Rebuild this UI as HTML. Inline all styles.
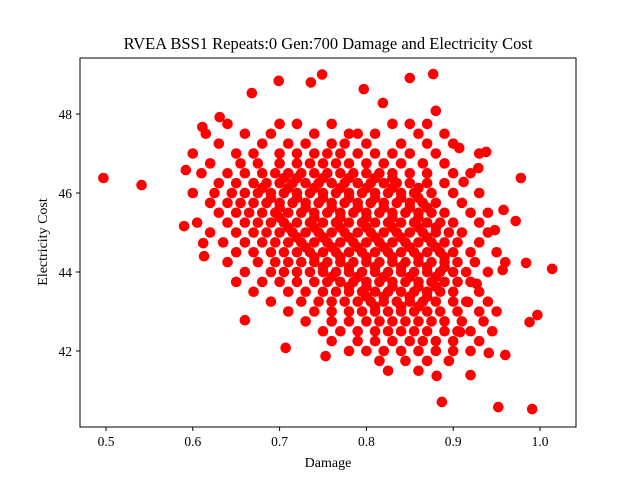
<!DOCTYPE html>
<html><head><meta charset="utf-8"><style>
body{margin:0;background:#fff}
svg{display:block;font-family:"Liberation Serif",serif}
</style></head><body>
<svg id="chart" width="640" height="480" viewBox="0 0 640 480" xmlns="http://www.w3.org/2000/svg">
<rect width="640" height="480" fill="#fff"/>
<text x="328" y="49" text-anchor="middle" font-size="16.5">RVEA BSS1 Repeats:0 Gen:700 Damage and Electricity Cost</text>
<g id="points"></g>
<rect x="80" y="58" width="496" height="369" fill="none" stroke="#000" stroke-width="1"/>
<g id="xt"></g>
<g id="yt"></g>
<text x="328" y="467" text-anchor="middle" font-size="14">Damage</text>
<text transform="translate(47,242) rotate(-90)" text-anchor="middle" font-size="14">Electricity Cost</text>
</svg>
<script>
const outX=[0.497,0.541,0.592,0.590,0.612,0.613,0.611,0.631,0.668,0.699,0.749,0.736,0.797,0.819,0.850,0.877,0.660,0.707,0.753,0.881,0.887,0.920,0.952,0.991,0.988,0.997,1.014,0.984,0.978,0.972,0.958,0.938,0.929,0.907,0.880,0.912,0.948,0.957,0.960,0.941,0.908,0.917,0.927];
const outY=[46.38,46.2,46.58,45.16,44.73,44.4,47.67,47.92,48.53,48.84,49.0,48.8,48.63,48.28,48.91,49.01,42.78,42.08,41.87,41.37,40.71,41.39,40.58,40.53,42.73,42.91,44.08,44.23,46.38,45.29,45.57,47.04,46.63,47.14,48.08,46.28,45.06,44.05,41.9,41.95,42.48,43.24,43.7];
const rowY=[47.75,47.5,47.25,47.0,46.75,46.5,46.25,46.0,45.75,45.5,45.25,45.0,44.75,44.5,44.25,44.0,43.75,43.5,43.25,43.0,42.75,42.5,42.25,42.0,41.75,41.5];
const rowX=[
[0.64,0.70,0.72,0.76,0.83,0.85,0.87],
[0.615,0.66,0.69,0.74,0.78,0.79,0.81,0.86,0.89],
[0.63,0.68,0.71,0.73,0.76,0.775,0.80,0.84,0.87,0.90],
[0.60,0.65,0.67,0.70,0.72,0.74,0.755,0.77,0.79,0.81,0.83,0.85,0.88,0.93],
[0.62,0.655,0.675,0.70,0.72,0.735,0.75,0.765,0.78,0.80,0.82,0.84,0.865,0.89],
[0.61,0.64,0.66,0.68,0.695,0.71,0.725,0.74,0.755,0.77,0.785,0.80,0.815,0.83,0.85,0.87,0.90,0.92],
[0.63,0.65,0.67,0.685,0.70,0.715,0.73,0.745,0.76,0.775,0.79,0.805,0.82,0.835,0.85,0.87,0.89],
[0.60,0.625,0.645,0.66,0.675,0.69,0.705,0.72,0.735,0.75,0.765,0.78,0.795,0.81,0.825,0.84,0.855,0.875,0.90,0.93],
[0.62,0.64,0.655,0.67,0.685,0.70,0.715,0.73,0.745,0.76,0.775,0.79,0.805,0.82,0.835,0.85,0.865,0.88,0.91],
[0.63,0.65,0.665,0.68,0.695,0.71,0.725,0.74,0.755,0.77,0.785,0.80,0.815,0.83,0.845,0.86,0.875,0.89,0.92,0.94],
[0.605,0.64,0.66,0.675,0.69,0.705,0.72,0.735,0.75,0.765,0.78,0.795,0.81,0.825,0.84,0.855,0.87,0.885,0.90,0.93],
[0.62,0.65,0.67,0.685,0.70,0.715,0.73,0.745,0.76,0.775,0.79,0.805,0.82,0.835,0.85,0.865,0.88,0.895,0.91,0.94],
[0.635,0.66,0.68,0.695,0.71,0.725,0.74,0.755,0.77,0.785,0.80,0.815,0.83,0.845,0.86,0.875,0.89,0.905,0.93],
[0.65,0.67,0.69,0.705,0.72,0.735,0.75,0.765,0.78,0.795,0.81,0.825,0.84,0.855,0.87,0.885,0.90,0.92,0.95],
[0.64,0.675,0.695,0.71,0.725,0.74,0.755,0.77,0.785,0.80,0.815,0.83,0.845,0.86,0.875,0.89,0.905,0.925,0.96],
[0.66,0.69,0.705,0.72,0.735,0.75,0.765,0.78,0.795,0.81,0.825,0.84,0.855,0.87,0.885,0.90,0.915,0.94],
[0.65,0.68,0.70,0.72,0.74,0.755,0.77,0.785,0.80,0.815,0.83,0.845,0.86,0.875,0.89,0.905,0.92],
[0.67,0.71,0.73,0.75,0.765,0.78,0.795,0.81,0.825,0.84,0.855,0.87,0.885,0.90,0.93],
[0.69,0.725,0.745,0.76,0.775,0.79,0.805,0.82,0.835,0.85,0.865,0.88,0.90,0.915,0.94],
[0.71,0.74,0.76,0.78,0.795,0.81,0.825,0.84,0.855,0.87,0.885,0.905,0.93,0.95],
[0.73,0.76,0.78,0.80,0.815,0.83,0.845,0.86,0.875,0.89,0.91,0.935],
[0.75,0.77,0.79,0.81,0.825,0.84,0.855,0.87,0.89,0.905,0.92,0.945],
[0.76,0.79,0.81,0.83,0.85,0.865,0.88,0.90,0.93],
[0.78,0.80,0.82,0.84,0.86,0.88,0.90,0.92],
[0.815,0.845,0.87,0.895],
[0.825,0.86]];
const coreY=[46.375,46.125,45.875,45.625,45.375,45.125,44.875,44.625,44.375,44.125,43.875,43.625,43.375,43.125];
const coreX=[
[0.705,0.72,0.75,0.78,0.81,0.83],
[0.68,0.71,0.74,0.77,0.80,0.83,0.86],
[0.69,0.72,0.75,0.78,0.81,0.84,0.86],
[0.70,0.73,0.76,0.79,0.82,0.85,0.87],
[0.70,0.74,0.77,0.80,0.83,0.86],
[0.71,0.74,0.77,0.80,0.83,0.86,0.88],
[0.72,0.75,0.78,0.81,0.84,0.87],
[0.73,0.76,0.79,0.82,0.85,0.88],
[0.74,0.77,0.80,0.83,0.86,0.89],
[0.75,0.78,0.81,0.84,0.87,0.89],
[0.76,0.79,0.82,0.85,0.88],
[0.78,0.80,0.83,0.86,0.88],
[0.80,0.82,0.85,0.87],
[0.81,0.84,0.86]];
const xTicks=[0.5,0.6,0.7,0.8,0.9,1.0];
const xTickLabels=["0.5","0.6","0.7","0.8","0.9","1.0"];
const yTicks=[42,44,46,48];
const yTickLabels=["42","44","46","48"];

const NS="http://www.w3.org/2000/svg";
const sx=v=>106+(v-0.5)*868;
const sy=v=>114-(v-48)*39.5;
const pg=document.getElementById('points');
function dot(x,y){
  const c=document.createElementNS(NS,'circle');
  c.setAttribute('cx',sx(x));c.setAttribute('cy',sy(y));c.setAttribute('r',5.3);c.setAttribute('fill','#ff0000');
  
  
  pg.appendChild(c);
}
rowY.forEach((y,i)=>rowX[i].forEach(x=>dot(x,y)));
coreY.forEach((y,i)=>coreX[i].forEach(x=>dot(x,y)));
outX.forEach((x,i)=>dot(x,outY[i]));
const xt=document.getElementById('xt');
xTicks.forEach((v,i)=>{
  const l=document.createElementNS(NS,'line');
  l.setAttribute('x1',sx(v));l.setAttribute('x2',sx(v));l.setAttribute('y1',427);l.setAttribute('y2',431);l.setAttribute('stroke','#000');
  
  
  xt.appendChild(l);
  const t=document.createElementNS(NS,'text');
  t.setAttribute('x',sx(v));t.setAttribute('y',446);t.setAttribute('text-anchor','middle');t.setAttribute('font-size','13.5');
  t.textContent=xTickLabels[i];
  
  
  xt.appendChild(t);
});
const yt=document.getElementById('yt');
yTicks.forEach((v,i)=>{
  const l=document.createElementNS(NS,'line');
  l.setAttribute('x1',76);l.setAttribute('x2',80);l.setAttribute('y1',sy(v));l.setAttribute('y2',sy(v));l.setAttribute('stroke','#000');
  
  
  yt.appendChild(l);
  const t=document.createElementNS(NS,'text');
  t.setAttribute('x',72);t.setAttribute('y',sy(v)+5);t.setAttribute('text-anchor','end');t.setAttribute('font-size','13.5');
  t.textContent=yTickLabels[i];
  
  
  yt.appendChild(t);
});
</script>
</body></html>
